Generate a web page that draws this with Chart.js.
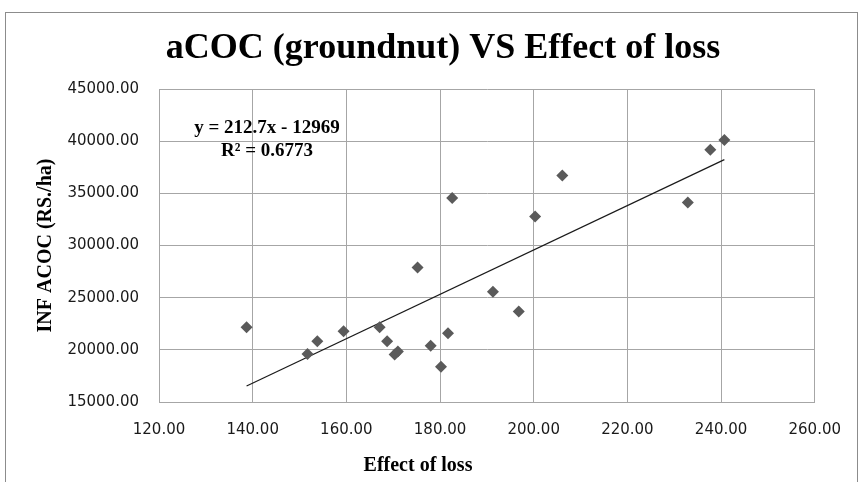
<!DOCTYPE html>
<html>
<head>
<meta charset="utf-8">
<script src="https://cdn.jsdelivr.net/npm/chart.js@4"></script>
<style>
html,body{margin:0;padding:0;background:#fff;}
#wrap{width:860px;height:482px;position:relative;}
</style>
</head>
<body>
<div id="wrap"><canvas id="c" width="860" height="482"></canvas></div>
<script>
// Data
const effectOfLoss = [138.7, 151.7, 153.8, 159.4, 167.1, 168.7, 170.3, 171.0, 175.2, 178.0, 180.2, 181.7, 182.6, 191.3, 196.8, 200.3, 206.1, 232.9, 237.7, 240.7];
const infAcoc      = [22170, 19600, 20830, 21790, 22170, 20830, 19550, 19850, 27890, 20400, 18390, 21600, 34550, 25560, 23670, 32780, 36720, 34130, 39180, 40110];
const trendX = [138.7, 240.7];
const trendY = [16530, 38230];
const xTicks = [120, 140, 160, 180, 200, 220, 240, 260];
const yTicks = [15000, 20000, 25000, 30000, 35000, 40000, 45000];
const titleText = "aCOC (groundnut) VS Effect of loss";
const xTitle = "Effect of loss";
const yTitle = "INF ACOC (RS./ha)";
const eqLines = ["y = 212.7x - 12969", "R\u00B2 = 0.6773"];

const points = effectOfLoss.map((x, i) => ({x: x, y: infAcoc[i]}));
const trend = trendX.map((x, i) => ({x: x, y: trendY[i]}));

const textPlugin = {
  id: 'texts',
  beforeDraw(chart) {
    const ctx = chart.ctx;
    ctx.save();
    ctx.strokeStyle = '#8c8c8c';
    ctx.lineWidth = 1;
    ctx.strokeRect(5.5, 12.5, 852, 500);
    ctx.restore();
  },
  afterDraw(chart) {
    const ctx = chart.ctx;
    const a = chart.chartArea;
    ctx.save();
    ctx.fillStyle = '#000';
    ctx.textAlign = 'center';
    ctx.textBaseline = 'middle';
    ctx.font = 'bold 36px "Liberation Serif"';
    ctx.fillText(titleText, 443, 49);
    ctx.font = 'bold 20px "Liberation Serif"';
    ctx.fillText(xTitle, 418, 466);
    ctx.save();
    ctx.translate(46, (a.top + a.bottom) / 2);
    ctx.rotate(-Math.PI / 2);
    ctx.fillText(yTitle, 0, 0);
    ctx.restore();
    ctx.font = 'bold 19px "Liberation Serif"';
    ctx.fillText(eqLines[0], 267, 128);
    ctx.fillText(eqLines[1], 267, 151);
    ctx.restore();
  }
};

new Chart(document.getElementById('c'), {
  data: {
    datasets: [
      {
        type: 'scatter',
        data: points,
        pointStyle: 'rectRot',
        pointRadius: 6,
        pointHoverRadius: 6,
        backgroundColor: '#5a5a5a',
        borderColor: '#5a5a5a',
        borderWidth: 0
      },
      {
        type: 'line',
        data: trend,
        borderColor: '#1a1a1a',
        borderWidth: 1.2,
        pointRadius: 0,
        fill: false
      }
    ]
  },
  options: {
    responsive: false,
    animation: false,
    layout: {padding: {top: 89, right: 38, left: 0, bottom: 0}},
    plugins: {legend: {display: false}, tooltip: {enabled: false}, title: {display: false}},
    scales: {
      x: {
        type: 'linear',
        min: 120, max: 260,
        afterBuildTicks(s) { s.ticks = xTicks.map(v => ({value: v})); },
        afterFit(s) { s.height = 80; },
        grid: {color: '#a6a6a6', lineWidth: 1, drawTicks: false},
        border: {color: '#a6a6a6'},
        ticks: {
          padding: 19,
          color: '#1a1a1a',
          font: {family: '"DejaVu Sans"', size: 15},
          callback: v => Number(v).toFixed(2)
        }
      },
      y: {
        type: 'linear',
        min: 15000, max: 45000,
        afterBuildTicks(s) { s.ticks = yTicks.map(v => ({value: v})); },
        afterFit(s) { s.width = 159; },
        grid: {color: '#a6a6a6', lineWidth: 1, drawTicks: false},
        border: {color: '#a6a6a6'},
        ticks: {
          padding: 20,
          color: '#1a1a1a',
          font: {family: '"DejaVu Sans"', size: 15},
          callback: v => Number(v).toFixed(2)
        }
      }
    }
  },
  plugins: [textPlugin]
});
</script>
</body>
</html>
